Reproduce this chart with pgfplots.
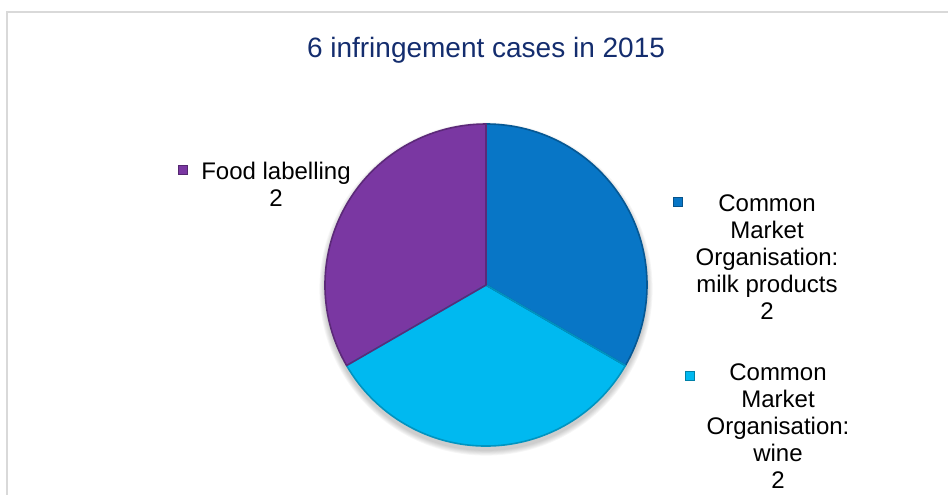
\documentclass[border=0pt]{standalone}
\usepackage{pgfplots}
\pgfplotsset{compat=1.18}
\usepackage{pgfplotstable}
\usepackage{fontspec}
\setmainfont{Liberation Sans}
\definecolor{pieblue}{RGB}{8,118,198}
\definecolor{piecyan}{RGB}{0,185,240}
\definecolor{piepurple}{RGB}{122,55,162}
\definecolor{titleblue}{RGB}{20,45,110}
\definecolor{framegray}{RGB}{217,217,217}
\pgfplotstableread{
label value
milk 2
wine 2
food 2
}\piedata
\pgfplotstablegetelem{0}{value}\of\piedata \let\va\pgfplotsretval
\pgfplotstablegetelem{1}{value}\of\piedata \let\vb\pgfplotsretval
\pgfplotstablegetelem{2}{value}\of\piedata \let\vc\pgfplotsretval
\pgfmathsetmacro\total{\va+\vb+\vc}
\pgfmathsetmacro\aA{90}
\pgfmathsetmacro\aB{\aA-360*\va/\total}
\pgfmathsetmacro\aC{\aB-360*\vb/\total}
\pgfmathsetmacro\aD{\aC-360*\vc/\total}
\def\R{120.75pt}
\begin{document}%
\begin{tikzpicture}
\begin{axis}[width=711pt,height=370.5pt,scale only axis,
  xmin=0,xmax=948,ymin=0,ymax=494,hide axis,clip=false]
\coordinate (bl) at (axis cs:0,0);
\coordinate (tr) at (axis cs:948,494);
\draw[framegray, line width=1.5pt] (axis cs:7,-30) -- (axis cs:7,482) -- (axis cs:990,482);
% soft shadow
\pgfplotsinvokeforeach{1,...,6}{
  \fill[black, opacity=0.035] (axis cs:486,205) circle[radius={120.75pt+#1*0.7pt}];
}
% slices
\fill[pieblue] (axis cs:486,209) -- ++(\aA:\R) arc[start angle=\aA, end angle=\aB, radius=\R] -- cycle;
\fill[piecyan] (axis cs:486,209) -- ++(\aB:\R) arc[start angle=\aB, end angle=\aC, radius=\R] -- cycle;
\fill[piepurple] (axis cs:486,209) -- ++(\aC:\R) arc[start angle=\aC, end angle=\aD, radius=\R] -- cycle;
% bevel outlines
\draw[pieblue!75!black, line width=1.2pt, line join=round] (axis cs:486,209) -- ++(\aA:\R) arc[start angle=\aA, end angle=\aB, radius=\R] -- cycle;
\draw[piecyan!80!black, line width=1.2pt, line join=round] (axis cs:486,209) -- ++(\aB:\R) arc[start angle=\aB, end angle=\aC, radius=\R] -- cycle;
\draw[piepurple!75!black, line width=1.2pt, line join=round] (axis cs:486,209) -- ++(\aC:\R) arc[start angle=\aC, end angle=\aD, radius=\R] -- cycle;
% title
\node[text=titleblue, font=\fontsize{21}{25}\selectfont] at (axis cs:486,444) {6 infringement cases in 2015};
% labels
\node[align=center, font=\fontsize{18}{20.25}\selectfont] at (axis cs:276,310) {Food labelling\\2};
\node[align=center, font=\fontsize{18}{20.25}\selectfont] at (axis cs:767,237) {Common\\Market\\Organisation:\\milk products\\2};
\node[align=center, font=\fontsize{18}{20.25}\selectfont] at (axis cs:778,68) {Common\\Market\\Organisation:\\wine\\2};
% legend keys
\node[fill=piepurple, draw=piepurple!70!black, minimum size=7pt, inner sep=0pt] at (axis cs:183,324) {};
\node[fill=pieblue, draw=pieblue!70!black, minimum size=7pt, inner sep=0pt] at (axis cs:678,292) {};
\node[fill=piecyan, draw=piecyan!70!black, minimum size=7pt, inner sep=0pt] at (axis cs:690,118) {};
\end{axis}
\pgfresetboundingbox
\path[use as bounding box] (bl) rectangle (tr);
\end{tikzpicture}%
\end{document}
